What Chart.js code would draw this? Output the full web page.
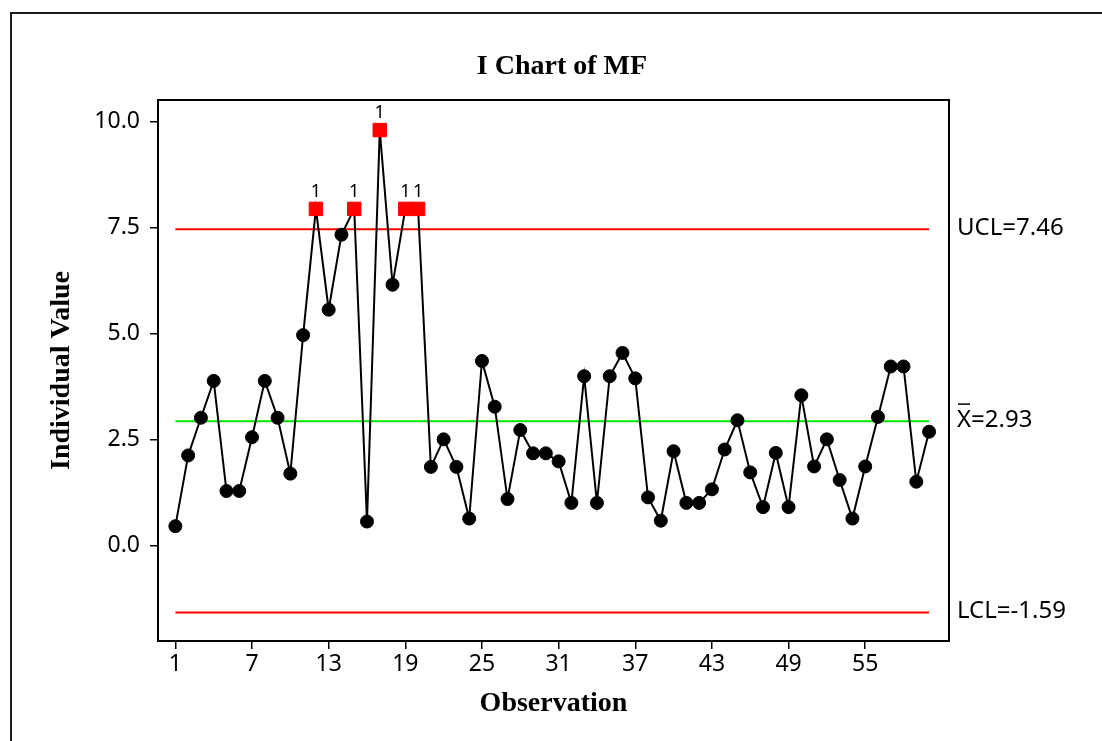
<!DOCTYPE html>
<html>
<head>
<meta charset="utf-8">
<title>I Chart of MF</title>
<script src="https://cdn.jsdelivr.net/npm/chart.js@4"></script>
<style>
  html, body { margin: 0; padding: 0; background: #fff; }
  #wrap { width: 1102px; height: 741px; }
</style>
</head>
<body>
<div id="wrap"><canvas id="iChart" width="1102" height="741"></canvas></div>
<script>
// individual MF values, observation 1..60
var mfValues = [
    0.45, 2.12, 3.01, 3.88, 1.28, 1.28, 2.55, 3.88, 3.01, 1.69,
    4.96, 7.94, 5.56, 7.33, 7.94, 0.56, 9.80, 6.15, 7.94, 7.94,
    1.85, 2.50, 1.85, 0.63, 4.35, 3.27, 1.09, 2.72, 2.17, 2.17,
    1.98, 1.00, 3.99, 1.00, 3.99, 4.54, 3.94, 1.13, 0.58, 2.22,
    1.00, 1.00, 1.32, 2.26, 2.95, 1.72, 0.90, 2.18, 0.90, 3.54,
    1.86, 2.50, 1.54, 0.63, 1.86, 3.03, 4.22, 4.22, 1.50, 2.68
];
var xTickValues = [1, 7, 13, 19, 25, 31, 37, 43, 49, 55];
var yTickValues = [0, 2.5, 5, 7.5, 10];

var ucl = 7.46;
var centerLine = 2.93;
var lcl = -1.59;

var firstObs = 1;
var lastObs = mfValues.length;

var points = mfValues.map(function(v, i) {
    return { x: i + 1, y: v };
});

function isOut(v) {
    return v > ucl || v < lcl;
}

function limitLine(v) {
    return [{ x: firstObs, y: v }, { x: lastObs, y: v }];
}

function pointIsOut(c) {
    return isOut(mfValues[c.dataIndex]);
}

// frame, title, limit labels and test-1 flags
var chartDecor = {
    id: 'chartDecor',
    afterDraw: function(chart) {
        var ctx = chart.ctx;
        var area = chart.chartArea;
        var xs = chart.scales.x;
        var ys = chart.scales.y;
        ctx.save();

        ctx.strokeStyle = '#1a1a1a';
        ctx.lineWidth = 2;
        ctx.beginPath();
        ctx.moveTo(11, 741);
        ctx.lineTo(11, 13);
        ctx.lineTo(1102, 13);
        ctx.stroke();

        ctx.strokeStyle = '#000';
        ctx.strokeRect(area.left, area.top, area.right - area.left, area.bottom - area.top);

        ctx.fillStyle = '#000';
        ctx.font = 'bold 28px "Liberation Serif", "Times New Roman", serif';
        ctx.textAlign = 'center';
        ctx.textBaseline = 'middle';
        ctx.fillText('I Chart of MF', 562, 67);

        ctx.font = '24px "Noto Sans", sans-serif';
        ctx.textAlign = 'left';
        var lx = area.right + 8;
        ctx.fillText('UCL=' + ucl.toFixed(2), lx, ys.getPixelForValue(ucl) - 1);
        ctx.fillText('LCL=' + lcl.toFixed(2), lx, ys.getPixelForValue(lcl) - 1);
        var cy = ys.getPixelForValue(centerLine) - 1;
        ctx.fillText('X=' + centerLine.toFixed(2), lx, cy);
        var xw = ctx.measureText('X').width;
        ctx.lineWidth = 1.5;
        ctx.beginPath();
        ctx.moveTo(lx + 1, cy - 16);
        ctx.lineTo(lx + xw - 1, cy - 16);
        ctx.stroke();

        ctx.font = '18px "Noto Sans", sans-serif';
        ctx.textAlign = 'center';
        ctx.textBaseline = 'alphabetic';
        mfValues.forEach(function(v, i) {
            if (isOut(v)) {
                ctx.fillText('1', xs.getPixelForValue(i + 1), ys.getPixelForValue(v) - 12);
            }
        });
        ctx.restore();
    }
};

var axisTitleFont = { family: 'Liberation Serif', size: 28, weight: 'bold' };
var tickFont = { family: 'Noto Sans', size: 23 };

var ctx = document.getElementById('iChart').getContext('2d');
var iChart = new Chart(ctx, {
    type: 'line',
    data: {
        datasets: [
            {
                label: 'MF',
                data: points,
                borderColor: '#000',
                borderWidth: 2,
                tension: 0,
                pointStyle: function(c) { return pointIsOut(c) ? 'rect' : 'circle'; },
                pointRadius: function(c) { return pointIsOut(c) ? 9.5 : 6.5; },
                pointBackgroundColor: function(c) { return pointIsOut(c) ? '#ff0000' : '#000'; },
                pointBorderColor: function(c) { return pointIsOut(c) ? '#ff0000' : '#000'; },
                pointBorderWidth: 1
            },
            {
                label: 'UCL',
                data: limitLine(ucl),
                borderColor: '#ff0000',
                borderWidth: 2,
                pointRadius: 0
            },
            {
                label: 'X-bar',
                data: limitLine(centerLine),
                borderColor: '#00e600',
                borderWidth: 2,
                pointRadius: 0
            },
            {
                label: 'LCL',
                data: limitLine(lcl),
                borderColor: '#ff0000',
                borderWidth: 2,
                pointRadius: 0
            }
        ]
    },
    options: {
        responsive: false,
        animation: false,
        events: [],
        layout: {
            padding: { top: 100, right: 153, bottom: 0, left: 0 }
        },
        scales: {
            x: {
                type: 'linear',
                min: -0.36,
                max: 61.56,
                afterBuildTicks: function(scale) {
                    scale.ticks = xTickValues.map(function(v) { return { value: v }; });
                },
                afterFit: function(scale) {
                    scale.height = 100;
                },
                border: { display: false },
                grid: {
                    drawOnChartArea: false,
                    drawTicks: true,
                    tickLength: 8,
                    color: '#000',
                    lineWidth: 1.5
                },
                ticks: {
                    color: '#000',
                    padding: 2,
                    autoSkip: false,
                    maxRotation: 0,
                    font: tickFont,
                    callback: function(value) { return String(value); }
                },
                title: {
                    display: true,
                    text: 'Observation',
                    color: '#000',
                    font: axisTitleFont,
                    padding: { top: 0, bottom: 20 }
                }
            },
            y: {
                min: -2.26,
                max: 10.51,
                afterBuildTicks: function(scale) {
                    scale.ticks = yTickValues.map(function(v) { return { value: v }; });
                },
                afterFit: function(scale) {
                    scale.width = 158;
                },
                border: { display: false },
                grid: {
                    drawOnChartArea: false,
                    drawTicks: true,
                    tickLength: 8,
                    color: '#000',
                    lineWidth: 1.5
                },
                ticks: {
                    color: '#000',
                    padding: 10,
                    font: tickFont,
                    callback: function(value) { return value.toFixed(1); }
                },
                title: {
                    display: true,
                    text: 'Individual Value',
                    color: '#000',
                    font: axisTitleFont,
                    padding: { top: 45, bottom: 0 }
                }
            }
        },
        plugins: {
            legend: { display: false },
            tooltip: { enabled: false }
        }
    },
    plugins: [chartDecor]
});
</script>
</body>
</html>
